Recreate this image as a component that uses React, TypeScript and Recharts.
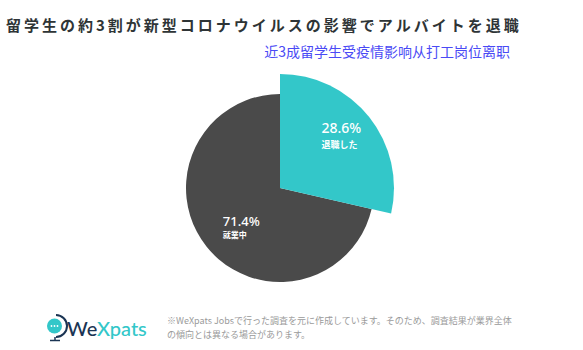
import React from "react";
import { PieChart, Pie, Cell } from "recharts";

const categories = ["退職した", "就業中"];
const values = [28.6, 71.4];
const percentLabels = ["28.6%", "71.4%"];
const colors = ["#33c7c9", "#4a4a4a"];
const radii = [114, 94];
const labelOffsets = [
  { dx: -12, pct: -12, sub: 3, pctSize: 14, subSize: 9 },
  { dx: -13, pct: 3, sub: 15, pctSize: 13, subSize: 8 },
];

const data = categories.map((name, i) => ({ name, value: values[i], pct: percentLabels[i] }));

const RAD = Math.PI / 180;

const makeLabel = (which: number) => (props: any) => {
  const { cx, cy, midAngle, outerRadius, index } = props;
  if (index !== which) return null;
  const r = outerRadius * 0.6;
  const x = cx + r * Math.cos(-midAngle * RAD);
  const y = cy + r * Math.sin(-midAngle * RAD);
  const o = labelOffsets[index];
  return (
    <g>
      <text x={x + o.dx} y={y + o.pct} fill="#fff" fontSize={o.pctSize} fontWeight={500}
        fontFamily="'Noto Sans', 'Noto Sans CJK JP', sans-serif" textAnchor="start">
        {data[index].pct}
      </text>
      <text x={x + o.dx} y={y + o.sub} fill="#fff" fontSize={o.subSize} fontWeight={700}
        fontFamily="'Noto Sans CJK JP', sans-serif" textAnchor="start">
        {data[index].name}
      </text>
    </g>
  );
};

export default function App() {
  return (
    <div style={{ position: "absolute", left: 0, top: 0, width: 583, height: 350, background: "#fff", overflow: "hidden" }}>
      <PieChart width={583} height={350} margin={{ top: 0, right: 0, bottom: 0, left: 0 }}>
        <Pie data={data} dataKey="value" cx={280} cy={188} outerRadius={radii[1]} innerRadius={0}
          startAngle={90} endAngle={-270} stroke="none" isAnimationActive={false}
          labelLine={false} label={makeLabel(1)}>
          {data.map((d, i) => (
            <Cell key={d.name} fill={i === 1 ? colors[1] : "none"} />
          ))}
        </Pie>
        <Pie data={data} dataKey="value" cx={280} cy={188} outerRadius={radii[0]} innerRadius={0}
          startAngle={90} endAngle={-270} stroke="none" isAnimationActive={false}
          labelLine={false} label={makeLabel(0)}>
          {data.map((d, i) => (
            <Cell key={d.name} fill={i === 0 ? colors[0] : "none"} />
          ))}
        </Pie>
      </PieChart>
      <svg width={583} height={350} style={{ position: "absolute", left: 0, top: 0, pointerEvents: "none" }}>
        <text x={6} y={31} fontSize={15} fontWeight={700} fill="#2e3436" letterSpacing={3}
          fontFamily="'Noto Sans CJK JP', sans-serif">
          留学生の約3割が新型コロナウイルスの影響でアルバイトを退職
        </text>
        <text x={510} y={57} fontSize={14} fill="#4a4af5" textAnchor="end"
          fontFamily="'Noto Sans CJK SC', sans-serif">
          近3成留学生受疫情影响从打工岗位离职
        </text>
        {/* logo */}
        <circle cx={54.5} cy={326} r={7.5} fill="#33c7c9" />
        <circle cx={51.5} cy={326} r={0.9} fill="#fff" />
        <circle cx={54.5} cy={326} r={0.9} fill="#fff" />
        <circle cx={57.5} cy={326} r={0.9} fill="#fff" />
        <path d="M 56 315 A 11 11 0 0 1 56 337" stroke="#1b3554" strokeWidth={2} fill="none" />
        <line x1={55} y1={337} x2={55} y2={340} stroke="#1b3554" strokeWidth={1.5} />
        <line x1={50} y1={340.5} x2={60} y2={340.5} stroke="#1b3554" strokeWidth={1.5} />
        <text x={67} y={336} fontSize={20} fontWeight={500} fontFamily="Lato, sans-serif">
          <tspan fill="#1b3554">We</tspan>
          <tspan fill="#33c7c9">Xpats</tspan>
        </text>
        <text x={167} y={324} fontSize={9} fill="#9a9a9a" fontFamily="'Noto Sans CJK JP', sans-serif">
          ※WeXpats Jobsで行った調査を元に作成しています。そのため、調査結果が業界全体
        </text>
        <text x={167} y={338} fontSize={9} fill="#9a9a9a" fontFamily="'Noto Sans CJK JP', sans-serif">
          の傾向とは異なる場合があります。
        </text>
      </svg>
    </div>
  );
}
